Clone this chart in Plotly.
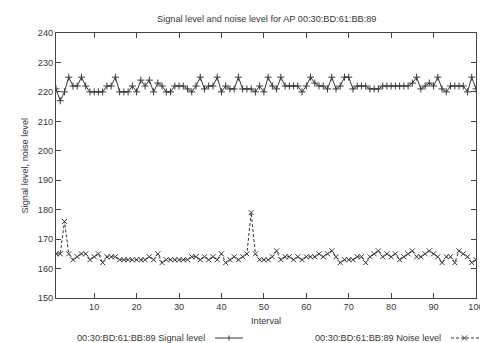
import plotly.graph_objects as go

intervals = list(range(1, 101))

signal_level = [
    221, 217, 220, 225, 222, 222, 225, 222, 220, 220,
    220, 220, 222, 222, 225, 220, 220, 220, 222, 220,
    224, 222, 224, 220, 223, 222, 220, 220, 222, 222,
    222, 221, 220, 222, 225, 221, 222, 222, 225, 220,
    222, 221, 221, 225, 221, 221, 221, 220, 222, 220,
    225, 222, 221, 225, 222, 222, 222, 222, 220, 222,
    225, 223, 222, 222, 221, 225, 221, 222, 225, 225,
    221, 222, 222, 222, 221, 221, 221, 222, 222, 222,
    222, 222, 222, 222, 223, 225, 221, 222, 223, 222,
    225, 221, 220, 222, 222, 222, 222, 220, 225, 221,
]

noise_level = [
    165, 165, 176, 165, 163, 164, 165, 165, 163, 164,
    165, 162, 164, 164, 164, 163, 163, 163, 163, 163,
    163, 163, 164, 163, 165, 162, 163, 163, 163, 163,
    163, 163, 164, 164, 163, 164, 163, 164, 163, 165,
    162, 163, 164, 163, 164, 165, 179, 165, 163, 163,
    163, 164, 166, 163, 164, 164, 163, 164, 163, 164,
    164, 164, 165, 164, 165, 166, 164, 162, 163, 163,
    163, 164, 164, 162, 164, 165, 166, 164, 165, 164,
    165, 163, 164, 165, 166, 164, 164, 165, 166, 165,
    164, 162, 164, 164, 162, 166, 165, 164, 162, 163,
]

x_ticks = [10, 20, 30, 40, 50, 60, 70, 80, 90, 100]
y_ticks = [150, 160, 170, 180, 190, 200, 210, 220, 230, 240]

title_text = "Signal level and noise level for AP 00:30:BD:61:BB:89"
x_title = "Interval"
y_title = "Signal level, noise level"
signal_name = "00:30:BD:61:BB:89 Signal level"
noise_name = "00:30:BD:61:BB:89 Noise level"

FONT = "Liberation Sans, Arial, Helvetica, sans-serif"
INK = "#383838"
AX = "#444444"
FS = 9.2

fig = go.Figure()
fig.add_trace(go.Scatter(
    x=intervals, y=signal_level, mode="lines+markers", name=signal_name,
    line=dict(color=INK, width=1),
    marker=dict(symbol="cross-thin", size=5, line=dict(color=INK, width=1)),
    showlegend=False, cliponaxis=True,
))
fig.add_trace(go.Scatter(
    x=intervals, y=noise_level, mode="lines+markers", name=noise_name,
    line=dict(color=INK, width=1, dash="3px,2px"),
    marker=dict(symbol="x-thin", size=5, line=dict(color=INK, width=1)),
    showlegend=False, cliponaxis=True,
))

axis_common = dict(
    showline=True, linecolor=AX, linewidth=1, mirror="ticks",
    ticks="inside", ticklen=5, tickcolor=AX, tickwidth=1,
    showgrid=False, zeroline=False,
    tickfont=dict(family=FONT, size=FS, color=INK),
)
fig.update_xaxes(range=[1, 100], tickvals=x_ticks, **axis_common)
fig.update_yaxes(range=[150, 240], tickvals=y_ticks, **axis_common)

annotations = [
    dict(text=title_text, x=0.5, y=1.053, xref="paper", yref="paper",
         xanchor="center", yanchor="middle", showarrow=False,
         font=dict(family=FONT, size=FS, color=INK)),
    dict(text=x_title, x=0.5, y=-0.087, xref="paper", yref="paper",
         xanchor="center", yanchor="middle", showarrow=False,
         font=dict(family=FONT, size=FS, color=INK)),
    dict(text=y_title, x=-0.074, y=0.5, xref="paper", yref="paper",
         xanchor="center", yanchor="middle", showarrow=False, textangle=-90,
         font=dict(family=FONT, size=FS, color=INK)),
    dict(text=signal_name, x=0.36, y=-0.151, xref="paper", yref="paper",
         xanchor="right", yanchor="middle", showarrow=False,
         font=dict(family=FONT, size=FS, color=INK)),
    dict(text=noise_name, x=0.921, y=-0.151, xref="paper", yref="paper",
         xanchor="right", yanchor="middle", showarrow=False,
         font=dict(family=FONT, size=FS, color=INK)),
]

def px2x(px):
    return (px - 56) / 420.0

def py2y(py):
    return (298 - py) / 265.0

shapes = []
ly = py2y(338)
shapes.append(dict(type="line", xref="paper", yref="paper",
                   x0=px2x(215), x1=px2x(243), y0=ly, y1=ly,
                   line=dict(color=INK, width=1)))
shapes.append(dict(type="line", xref="paper", yref="paper",
                   x0=px2x(229), x1=px2x(229), y0=py2y(335.5), y1=py2y(340.5),
                   line=dict(color=INK, width=1)))
shapes.append(dict(type="line", xref="paper", yref="paper",
                   x0=px2x(451), x1=px2x(479), y0=ly, y1=ly,
                   line=dict(color=INK, width=1, dash="3px,2px")))
shapes.append(dict(type="line", xref="paper", yref="paper",
                   x0=px2x(462), x1=px2x(467), y0=py2y(335.5), y1=py2y(340.5),
                   line=dict(color=INK, width=1)))
shapes.append(dict(type="line", xref="paper", yref="paper",
                   x0=px2x(462), x1=px2x(467), y0=py2y(340.5), y1=py2y(335.5),
                   line=dict(color=INK, width=1)))

# figure is slightly wider than the window so the last tick label ("100")
# is clipped by the window edge as in the reference
fig.update_layout(
    width=496, height=343,
    margin=dict(l=56, r=20, t=33, b=45, pad=0),
    paper_bgcolor="white", plot_bgcolor="white",
    font=dict(family=FONT, size=FS, color=INK),
    annotations=annotations, shapes=shapes,
    showlegend=False,
)

fig.write_html(
    "out.html",
    config={"displayModeBar": False, "staticPlot": True},
    post_script="document.body.style.margin='0';document.body.style.padding='0';document.body.style.overflow='hidden';",
)
